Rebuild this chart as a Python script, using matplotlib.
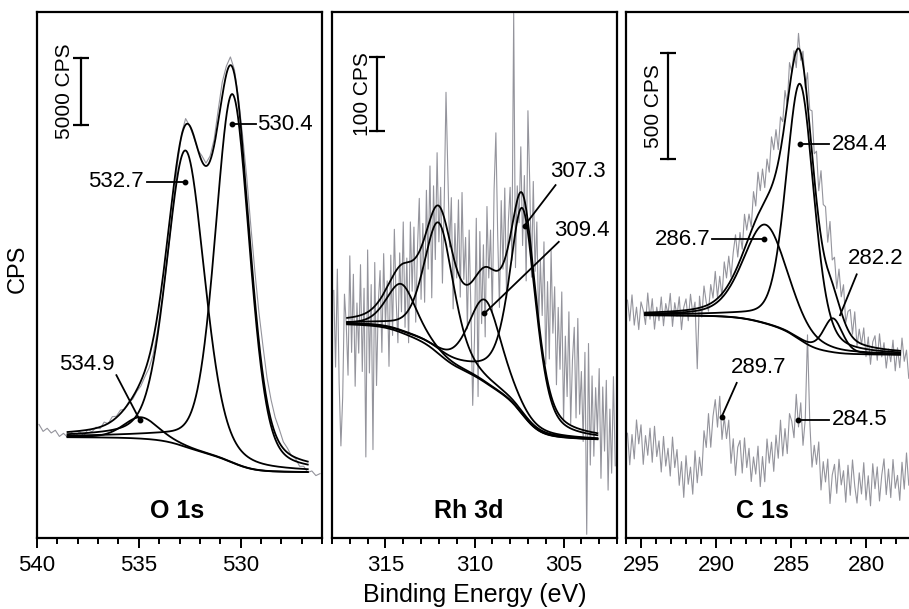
import numpy as np
import matplotlib
matplotlib.use('Agg')
import matplotlib.pyplot as plt

plt.rcParams['font.family'] = ['Liberation Sans', 'DejaVu Sans']

# ---------------- O 1s ----------------
o1s_raw_range = (539.9, 526.1)          # eV, 0.2 eV steps
o1s_raw = [8497, 7975, 8207, 7859, 8062, 7598, 7830, 7540, 7888, 7656,
           7946, 7656, 8120, 7946, 8294, 8178, 8671, 8555, 9077, 9106,
           9570, 9628, 10179, 10382, 10962, 11368, 12064, 12702, 13688, 15312,
           17371, 19488, 22156, 24998, 27985, 30247, 31378, 30827, 29986, 29029,
           28594, 28043, 28565, 29812, 32016, 34104, 35293, 35989, 35032, 32886,
           30073, 27057, 23403, 19981, 16907, 14355, 11977, 10324, 9019, 8149,
           7192, 6728, 6148, 5945, 5365, 5365, 4901, 5017, 4669, 4814]
o1s_fit_range = (526.7, 538.5)
o1s_bg = (4930, 7540)                   # low-BE end, high-BE end
o1s_pos = [534.9, 532.7, 530.4]
o1s_height = [1600, 22170, 27570]
o1s_fwhm = [2.0, 2.2, 2.0]
o1s_mix_high = [0.3, 0.3, 0.3]

# ---------------- Rh 3d ----------------
rh_raw_range = (317.9, 302.1)           # eV, 0.1 eV steps
rh_raw = [336, 232, 365, 211, 125, 191, 331, 290, 221, 383,
          252, 358, 206, 319, 251, 371, 226, 339, 110, 391,
          224, 344, 120, 374, 207, 320, 363, 252, 386, 289,
          349, 233, 384, 275, 419, 324, 265, 387, 307, 429,
          286, 380, 265, 429, 335, 422, 293, 394, 461, 324,
          427, 320, 472, 365, 505, 326, 478, 378, 523, 402,
          476, 346, 455, 605, 497, 395, 462, 311, 427, 353,
          459, 327, 469, 351, 408, 284, 418, 306, 180, 271,
          434, 192, 416, 291, 398, 273, 450, 353, 418, 307,
          473, 550, 413, 313, 458, 365, 475, 326, 429, 476,
          377, 712, 367, 478, 428, 531, 397, 492, 349, 580,
          483, 354, 484, 362, 429, 291, 377, 302, 402, 236,
          348, 243, 390, 278, 341, 208, 313, 229, 334, 159,
          274, 192, 307, 155, 242, 286, 163, 298, 168, 226,
          131, 252, 5, 264, 99, 220, 111, 204, 144, 230,
          81, 205, 118, 214, 65, 175, 88, 219, 98]
rh_fit_range = (303.1, 317.15)
rh_bg = (134, 290)
rh_pos = [314.1, 312.0, 309.4, 307.3]
rh_height = [66, 178, 112, 280]
rh_fwhm = [2.0, 2.0, 2.2, 1.8]
rh_mix_high = [0.45, 0.5, 0.45, 0.7]    # metallic peaks tail to higher BE

# ---------------- C 1s ----------------
c1s_raw_range = (295.9, 277.15)         # eV, 0.15 eV steps
c1s_raw_top = [1124, 1026, 1149, 1006, 1091, 985, 1116, 1076, 1009, 1158,
               1034, 1131, 987, 1091, 1027, 1139, 1003, 1108, 1057, 1156,
               1000, 1112, 1048, 1140, 985, 1090, 1130, 1027, 1152, 1061,
               1115, 800, 1143, 1044, 1191, 1114, 1072, 1198, 1134, 1260,
               1137, 1237, 1141, 1305, 1229, 1332, 1233, 1350, 1433, 1328,
               1444, 1365, 1530, 1455, 1531, 1470, 1637, 1569, 1729, 1642,
               1744, 1656, 1791, 1729, 1896, 1835, 1930, 1836, 1990, 1968,
               2115, 2048, 2247, 2203, 2303, 2223, 2385, 2258, 2301, 2126,
               2199, 2024, 2019, 1816, 1828, 1641, 1736, 1576, 1566, 1398,
               1496, 1314, 1327, 1179, 1271, 1140, 1197, 1018, 1071, 1080,
               963, 1069, 907, 987, 915, 993, 857, 950, 821, 927,
               956, 840, 965, 856, 923, 803, 893, 833, 935, 790,
               899, 805, 945, 835, 888, 755]
c1s_raw_bottom = [495, 346, 489, 374, 558, 445, 535, 348, 484, 391,
                  519, 358, 528, 385, 459, 312, 480, 340, 424, 293,
                  477, 333, 418, 249, 361, 192, 389, 254, 335, 207,
                  412, 261, 382, 295, 507, 428, 588, 429, 575, 654,
                  524, 670, 466, 572, 470, 557, 353, 469, 296, 429,
                  461, 307, 473, 333, 424, 267, 383, 302, 434, 243,
                  385, 266, 468, 354, 453, 315, 486, 377, 557, 388,
                  517, 399, 588, 552, 474, 679, 525, 639, 438, 561,
                  960, 552, 335, 438, 348, 454, 227, 361, 265, 373,
                  163, 298, 348, 211, 372, 251, 318, 169, 344, 202,
                  369, 245, 165, 308, 208, 356, 180, 294, 152, 351,
                  233, 336, 175, 297, 374, 205, 326, 191, 371, 235,
                  296, 178, 358, 231, 402, 250]
c1s_fit_range = (277.73, 294.73)
c1s_bg = (866, 1053)
c1s_pos = [286.7, 284.4, 282.2]
c1s_height = [467, 1209, 160]
c1s_fwhm = [3.5, 2.2, 1.5]
c1s_mix_high = [0.35, 0.35, 0.35]
c1s_bottom_peaks = [289.7, 284.5]

RAW = '#94949c'


def gl(x, pos, h, w, m_lo, m_hi):
    d = (x - pos) / w
    m = np.where(x > pos, m_hi, m_lo)
    return h * ((1 - m) * np.exp(-4 * np.log(2) * d ** 2) + m / (1 + 4 * d ** 2))


def draw_fit(ax, rng, bg_ends, pos, hts, wids, mix_hi, m=0.3):
    x = np.linspace(rng[0], rng[1], 800)
    comps = [gl(x, p, h, w, m, mh) for p, h, w, mh in zip(pos, hts, wids, mix_hi)]
    total = np.sum(comps, axis=0)
    cum = np.concatenate([[0], np.cumsum((total[1:] + total[:-1]) / 2 * np.diff(x))])
    bg = bg_ends[0] + (bg_ends[1] - bg_ends[0]) * cum / cum[-1]
    ax.plot(x, bg, color='k', lw=1.3)
    for c in comps:
        ax.plot(x, bg + c, color='k', lw=1.3)
    ax.plot(x, bg + total, color='k', lw=1.3)


def draw_raw(ax, rng, vals):
    x = np.linspace(rng[0], rng[1], len(vals))
    ax.plot(x, vals, color=RAW, lw=0.8)


def leader(ax, txt, dot, start, tpos, ha, dot_on=True):
    ax.plot([start[0], dot[0]], [start[1], dot[1]], color='k', lw=1.3)
    if dot_on:
        ax.plot(dot[0], dot[1], 'o', color='k', ms=3.2)
    ax.text(tpos[0], tpos[1], txt, ha=ha, va='center', fontsize=16)


def scale_bar(ax, x, y0, length, tx, label):
    ax.plot([x, x], [y0, y0 + length], color='k', lw=1.6,
            marker='_', ms=11, mew=1.6)
    ax.text(tx, y0 + length / 2, label, rotation=90, ha='center', va='center',
            fontsize=15)


fig = plt.figure(figsize=(9.09, 6.09), dpi=100)
W, H = 909, 609
axes = []
for left, xl, yl in [(37, (540, 526.0), (0, 39350)),
                     (332, (318, 302), (0, 714)),
                     (626, (296, 277), (0, 2486))]:
    ax = fig.add_axes([left / W, 71 / H, 285 / W, 526 / H])
    ax.set_xlim(*xl)
    ax.set_ylim(*yl)
    ax.set_yticks([])
    ax.xaxis.set_major_locator(plt.MultipleLocator(5))
    ax.xaxis.set_minor_locator(plt.MultipleLocator(1))
    ax.tick_params(axis='x', which='major', direction='out', length=7.5,
                   width=1.4, labelsize=16, pad=5)
    ax.tick_params(axis='x', which='minor', direction='out', length=4.5,
                   width=1.4)
    for s in ax.spines.values():
        s.set_linewidth(1.6)
    axes.append(ax)

ax1, ax2, ax3 = axes

# O 1s panel
draw_raw(ax1, o1s_raw_range, o1s_raw)
draw_fit(ax1, o1s_fit_range, o1s_bg, o1s_pos, o1s_height, o1s_fwhm, o1s_mix_high)
leader(ax1, f'{o1s_pos[2]:.1f}', (530.4, 30940), (529.25, 30940), (529.2, 30940), 'left')
leader(ax1, f'{o1s_pos[1]:.1f}', (532.75, 26620), (534.6, 26620), (534.75, 26680), 'right')
leader(ax1, f'{o1s_pos[0]:.1f}', (534.96, 8850), (536.1, 12180), (537.56, 12950), 'center')
scale_bar(ax1, 537.85, 30900, 5000, 538.65, '5000 CPS')
ax1.text(0.49, 0.051, 'O 1s', transform=ax1.transAxes, ha='center', va='center',
         fontsize=18, fontweight='bold')

# Rh 3d panel
draw_raw(ax2, rh_raw_range, rh_raw)
draw_fit(ax2, rh_fit_range, rh_bg, rh_pos, rh_height, rh_fwhm, rh_mix_high, m=0.45)
leader(ax2, f'{rh_pos[3]:.1f}', (307.19, 424), (305.45, 479), (305.73, 497), 'left')
leader(ax2, f'{rh_pos[2]:.1f}', (309.44, 305), (305.27, 402), (305.55, 417), 'left')
scale_bar(ax2, 315.5, 553, 100, 316.3, '100 CPS')
ax2.text(0.48, 0.051, 'Rh 3d', transform=ax2.transAxes, ha='center', va='center',
         fontsize=18, fontweight='bold')

# C 1s panel
draw_raw(ax3, c1s_raw_range, c1s_raw_top)
draw_raw(ax3, c1s_raw_range, c1s_raw_bottom)
draw_fit(ax3, c1s_fit_range, c1s_bg, c1s_pos, c1s_height, c1s_fwhm, c1s_mix_high, m=0.35)
leader(ax3, f'{c1s_pos[1]:.1f}', (284.4, 1860), (282.5, 1860), (282.3, 1860), 'left')
leader(ax3, f'{c1s_pos[0]:.1f}', (286.8, 1411), (290.3, 1411), (290.4, 1411), 'right')
leader(ax3, f'{c1s_pos[2]:.1f}', (281.73, 1053), (280.62, 1246), (281.2, 1319), 'left',
       dot_on=False)
leader(ax3, f'{c1s_bottom_peaks[0]:.1f}', (289.62, 573), (288.62, 733), (287.18, 806), 'center')
leader(ax3, f'{c1s_bottom_peaks[1]:.1f}', (284.56, 559), (282.5, 559), (282.3, 559), 'left')
scale_bar(ax3, 293.2, 1790, 500, 294.15, '500 CPS')
ax3.text(0.48, 0.051, 'C 1s', transform=ax3.transAxes, ha='center', va='center',
         fontsize=18, fontweight='bold')

fig.text(18 / W, 1 - 269 / H, 'CPS', rotation=90, ha='center', va='center', fontsize=17)
fig.text(474.5 / W, 1 - 595 / H, 'Binding Energy (eV)', ha='center', va='center',
         fontsize=18)

fig.savefig('out.png', dpi=100)
